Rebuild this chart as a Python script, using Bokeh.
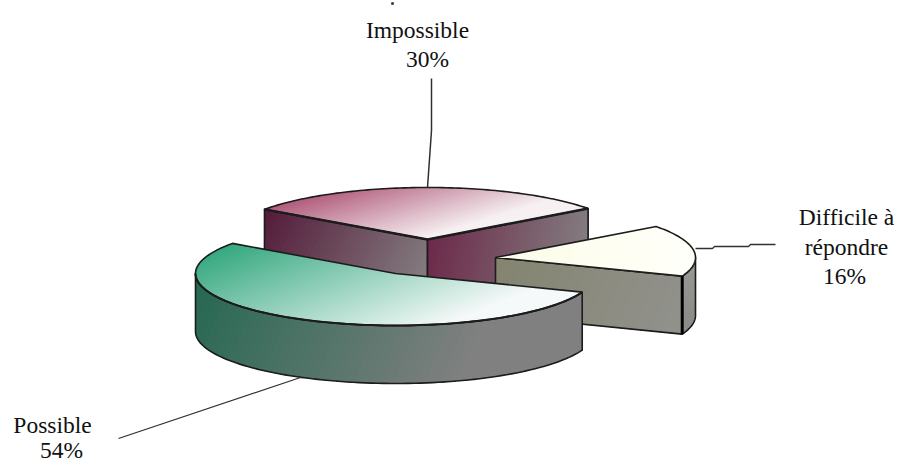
import math
from bokeh.embed import file_html
from bokeh.models import Range1d
from bokeh.plotting import figure
from bokeh.resources import INLINE
from bokeh.core.properties import value

categories = ["Impossible", "Difficile à répondre", "Possible"]
shares = [30, 16, 54]

# layout (page pixels)
W, H = 899, 462
RX, RY, DEPTH = 200, 52, 58
START = 215.4
centers = [(427, 239), (495, 257), (395, 273)]
INK = "#1c1c1c"

p = figure(width=W, height=H, x_range=Range1d(0, W), y_range=Range1d(H, 0),
           output_backend="svg", toolbar_location=None, min_border=0)
p.axis.visible = False
p.grid.visible = False
p.outline_line_color = None


def arc(c, a0, a1, n=90):
    return [(c[0] + RX * math.cos(math.radians(a0 + (a1 - a0) * i / n)),
             c[1] + RY * math.sin(math.radians(a0 + (a1 - a0) * i / n))) for i in range(n + 1)]


def clip(poly, ax, ay, dx, dy, lim):
    out = []
    f = lambda q: (q[0] - ax) * dx + (q[1] - ay) * dy - lim
    for i, q in enumerate(poly):
        r = poly[(i + 1) % len(poly)]
        fq, fr = f(q), f(r)
        if fq >= 0:
            out.append(q)
        if (fq >= 0) != (fr >= 0):
            s = fq / (fq - fr)
            out.append((q[0] + (r[0] - q[0]) * s, q[1] + (r[1] - q[1]) * s))
    return out


def shade(poly, A, B, c0, c1, steps=40):
    dx, dy = B[0] - A[0], B[1] - A[1]
    L2 = dx * dx + dy * dy
    xs, ys, cols = [], [], []
    for k in range(steps):
        t = k / (steps - 1)
        part = poly if k == 0 else clip(poly, A[0], A[1], dx, dy, L2 * t)
        if len(part) < 3:
            continue
        xs.append([q[0] for q in part])
        ys.append([q[1] for q in part])
        cols.append("#%02x%02x%02x" % tuple(round(c0[i] + (c1[i] - c0[i]) * t) for i in range(3)))
    p.patches(xs, ys, fill_color=cols, line_color=None)


def outline(pts, width=1.6, closed=True):
    pts = list(pts) + ([pts[0]] if closed else [])
    p.line([q[0] for q in pts], [q[1] for q in pts], line_color=INK, line_width=width, line_join="round")


def down(pts):
    return [(q[0], q[1] + DEPTH) for q in pts]


def wall(pts, A, B, c0, c1):
    poly = list(pts) + down(pts)[::-1]
    shade(poly, A, B, c0, c1)
    outline(poly)


# angular spans from the shares
spans = []
a = START
for s in shares:
    spans.append((a, a + s * 3.6))
    a += s * 3.6

# ---- Impossible (back)
c = centers[0]
a0, a1 = spans[0]
rim = arc(c, a0, a1)
wall([rim[0], c], (rim[0][0], rim[0][1]), (c[0], c[1] + DEPTH), (84, 28, 58), (136, 132, 134))
wall([c, rim[-1]], (c[0], c[1]), (rim[-1][0], rim[-1][1] + DEPTH), (108, 42, 74), (132, 128, 130))
top = [c] + rim
shade(top, (c[0] - 135, c[1] - 50), (c[0] - 111, c[1] + 30), (168, 72, 108), (246, 240, 242))
outline(top)
outline([rim[-1], c, rim[0]], 2.4, False)

# ---- Difficile (right)
c = centers[1]
a0, a1 = spans[1]
rim = arc(c, a0, a1)
wall([c, rim[-1]], (c[0], c[1]), (rim[-1][0], rim[-1][1] + DEPTH), (132, 132, 112), (146, 146, 142))
front = arc(c, a1 - 360, 0, 20)
wall(front, front[0], (front[-1][0], front[-1][1] + DEPTH), (150, 150, 146), (140, 140, 136))
top = [c] + rim
shade(top, (c[0], c[1]), (c[0] + 180, c[1]), (252, 252, 232), (255, 255, 250), 8)
outline(top)
p.line([rim[-1][0]] * 2, [rim[-1][1], rim[-1][1] + DEPTH], line_color="#000000", line_width=3)

# ---- Possible (front)
c = centers[2]
a0, a1 = spans[2]
rim = arc(c, a0 - 360, a1 - 360)
side = arc(c, a0 - 360, 180, 90)
wall(side, (c[0] - RX, c[1]), (c[0] + 60, c[1] + RY + DEPTH), (38, 104, 82), (128, 128, 128))
top = [c] + rim
shade(top, (215, 250), (272, 392), (56, 170, 130), (246, 249, 249))
outline(top)
outline(side, 2.0, False)

# ---- leader lines
imp_x, dif_y = centers[0][0], centers[1][1]
p.line([imp_x + 4, imp_x + 4, imp_x], [78, 130, centers[0][1] - RY],
       line_color="#303030", line_width=1.5)
p.line([centers[1][0] + RX, 712, 714, 748, 750, 775], [dif_y - 9, dif_y - 9, dif_y - 11, dif_y - 11, dif_y - 13, dif_y - 13],
       line_color="#303030", line_width=1.3)
p.line([300, 118], [377, 438], line_color="#303030", line_width=1.3)

# stray tick above the top label
p.scatter([392], [3], size=2.5, marker="square", fill_color="#222222", line_color=None)

# ---- labels
first, second = categories[1].rsplit(" ", 1)
text_rows = [
    (417, 29, categories[0]),
    (427, 58, f"{shares[0]}%"),
    (846, 216, first),
    (846, 246, second),
    (844, 275, f"{shares[1]}%"),
    (52, 424, categories[2]),
    (61, 449, f"{shares[2]}%"),
]
p.text([r[0] for r in text_rows], [r[1] for r in text_rows], text=[r[2] for r in text_rows],
       text_font=value("Liberation Serif"), text_font_size="23.5px", text_color="#111111",
       text_align="center", text_baseline="middle")

open("out.html", "w").write(file_html(p, INLINE))
